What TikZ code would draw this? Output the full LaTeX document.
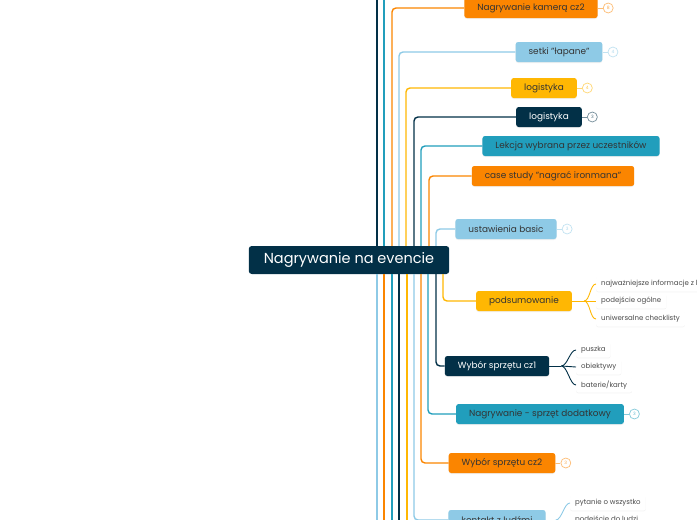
\documentclass[tikz,border=0pt]{standalone}
\usepackage{fontspec}
\setmainfont{Poppins}
\usetikzlibrary{positioning,shadows}
\definecolor{mapnavy}{HTML}{023047}
\definecolor{mapteal}{HTML}{219EBC}
\definecolor{mapsky}{HTML}{8ECAE6}
\definecolor{mapyellow}{HTML}{FFB703}
\definecolor{maporange}{HTML}{FB8500}
\definecolor{ink}{HTML}{333333}
\definecolor{softink}{HTML}{4A4A4A}
\tikzset{
  topic/.style={
    rounded corners=2.5pt,
    minimum height=20pt,
    inner xsep=13pt,
    inner ysep=0pt,
    font=\fontsize{8.9}{10}\selectfont,
    text=ink,
    drop shadow={opacity=0.12,shadow xshift=0pt,shadow yshift=-1pt}
  },
  navytopic/.style={topic,fill=mapnavy,text=white},
  tealtopic/.style={topic,fill=mapteal},
  skytopic/.style={topic,fill=mapsky},
  yellowtopic/.style={topic,fill=mapyellow},
  orangetopic/.style={topic,fill=maporange},
  root/.style={
    rounded corners=3pt,
    fill=mapnavy,
    text=white,
    minimum height=28pt,
    inner xsep=15pt,
    font=\fontsize{14.5}{16}\selectfont
  },
  leaf/.style={
    fill=white,
    rounded corners=2pt,
    minimum height=15pt,
    inner xsep=5pt,
    inner ysep=0pt,
    anchor=west,
    font=\fontsize{7}{8}\selectfont,
    text=softink,
    drop shadow={opacity=0.10,shadow xshift=0pt,shadow yshift=-0.8pt}
  },
  branch/.style={draw=#1,line width=1.4pt,rounded corners=4pt},
  twig/.style={draw=#1,line width=0.9pt},
  tally/.style={
    circle,
    draw=#1!55,
    fill=white,
    line width=0.7pt,
    minimum size=10pt,
    inner sep=0pt,
    font=\fontsize{4.5}{4.5}\selectfont,
    text=#1!70
  }
}

\begin{document}
\begin{tikzpicture}[x=1pt,y=-1pt]
  \clip (0,0) rectangle (697,520);

  \node[root] (hub) at (349,260) {Nagrywanie na evencie};

  \node[orangetopic] (kamera) at (531,8) {Nagrywanie kamerą cz2};
  \node[skytopic] (setki) at (559,52) {setki "łapane"};
  \node[yellowtopic] (logY) at (544,88) {logistyka};
  \node[navytopic] (logN) at (549,117) {logistyka};
  \node[tealtopic] (lekcja) at (571,146) {Lekcja wybrana przez uczestników};
  \node[orangetopic] (ironman) at (553,176) {case study "nagrać ironmana"};
  \node[skytopic] (basic) at (506,229) {ustawienia basic};
  \node[yellowtopic] (podsum) at (524,301) {podsumowanie};
  \node[navytopic] (cz1) at (497,366) {Wybór sprzętu cz1};
  \node[tealtopic] (dodatk) at (540,414) {Nagrywanie - sprzęt dodatkowy};
  \node[orangetopic] (cz2) at (502,463) {Wybór sprzętu cz2};
  \node[skytopic] (kontakt) at (497,520) {kontakt z ludźmi};

  % counters
  \node[tally=maporange,right=5pt of kamera] (kameraN) {8};
  \node[tally=mapsky,right=5pt of setki] (setkiN) {4};
  \node[tally=mapyellow,right=5pt of logY] (logYN) {4};
  \node[tally=mapnavy,right=5pt of logN] (logNN) {3};
  \node[tally=mapsky,right=5pt of basic] (basicN) {3};
  \node[tally=mapteal,right=5pt of dodatk] (dodatkN) {3};
  \node[tally=maporange,right=5pt of cz2] (cz2N) {3};
  \draw[twig=maporange!55] (kamera.east) -- (kameraN.west);
  \draw[twig=mapsky!55] (setki.east) -- (setkiN.west);
  \draw[twig=mapyellow!55] (logY.east) -- (logYN.west);
  \draw[twig=mapnavy!55] (logN.east) -- (logNN.west);
  \draw[twig=mapsky!55] (basic.east) -- (basicN.west);
  \draw[twig=mapteal!55] (dodatk.east) -- (dodatkN.west);
  \draw[twig=maporange!55] (cz2.east) -- (cz2N.west);

  % leaves
  \node[leaf] (infoA) at (596,284) {najważniejsze informacje z l};
  \node[leaf] (infoB) at (596,301) {podejście ogólne};
  \node[leaf] (infoC) at (596,319) {uniwersalne checklisty};
  \node[leaf] (gearA) at (576,350) {puszka};
  \node[leaf] (gearB) at (576,367) {obiektywy};
  \node[leaf] (gearC) at (576,385) {baterie/karty};
  \node[leaf] (talkA) at (570,503) {pytanie o wszystko};
  \node[leaf] (talkB) at (570,520) {podejście do ludzi};

  \draw[twig=mapyellow] (podsum.east) -- ++(12,0) coordinate (podsumJ);
  \draw[twig=mapyellow] (podsumJ) .. controls +(6,0) and +(-6,0) .. (infoA.west);
  \draw[twig=mapyellow] (podsumJ) -- (infoB.west);
  \draw[twig=mapyellow] (podsumJ) .. controls +(6,0) and +(-6,0) .. (infoC.west);
  \draw[twig=mapnavy] (cz1.east) -- ++(12,0) coordinate (cz1J);
  \draw[twig=mapnavy] (cz1J) .. controls +(6,0) and +(-6,0) .. (gearA.west);
  \draw[twig=mapnavy] (cz1J) -- (gearB.west);
  \draw[twig=mapnavy] (cz1J) .. controls +(6,0) and +(-6,0) .. (gearC.west);
  \draw[twig=mapsky] (kontakt.east) -- ++(10,0) coordinate (kontaktJ);
  \draw[twig=mapsky] (kontaktJ) .. controls +(6,0) and +(-6,0) .. (talkA.west);
  \draw[twig=mapsky] (kontaktJ) -- (talkB.west);

  \coordinate (offtop) at (0,-20);
  \coordinate (offbottom) at (0,540);

  % branches up
  \draw[branch=mapnavy] ([xshift=28pt]hub.north) -- ([xshift=28pt]hub.north |- offtop);
  \draw[branch=mapteal] ([xshift=35pt]hub.north) -- ([xshift=35pt]hub.north |- offtop);
  \draw[branch=maporange] ([xshift=43pt]hub.north) |- (kamera.west);
  \draw[branch=mapsky] ([xshift=50pt]hub.north) |- (setki.west);
  \draw[branch=mapyellow] ([xshift=57pt]hub.north) |- (logY.west);
  \draw[branch=mapnavy] ([xshift=65pt]hub.north) |- (logN.west);
  \draw[branch=mapteal] ([xshift=72pt]hub.north) |- (lekcja.west);
  \draw[branch=maporange] ([xshift=80pt]hub.north) |- (ironman.west);
  \draw[branch=mapsky] ([xshift=87pt]hub.north) |- (basic.west);

  % branches down
  \draw[branch=mapsky] ([xshift=28pt]hub.south) -- ([xshift=28pt]hub.south |- offbottom);
  \draw[branch=maporange] ([xshift=35pt]hub.south) -- ([xshift=35pt]hub.south |- offbottom);
  \draw[branch=mapteal] ([xshift=43pt]hub.south) -- ([xshift=43pt]hub.south |- offbottom);
  \draw[branch=mapnavy] ([xshift=50pt]hub.south) -- ([xshift=50pt]hub.south |- offbottom);
  \draw[branch=mapyellow] ([xshift=58pt]hub.south) -- ([xshift=58pt]hub.south |- offbottom);
  \draw[branch=mapsky] ([xshift=65pt]hub.south) |- (kontakt.west);
  \draw[branch=maporange] ([xshift=72pt]hub.south) |- (cz2.west);
  \draw[branch=mapteal] ([xshift=79pt]hub.south) |- (dodatk.west);
  \draw[branch=mapnavy] ([xshift=87pt]hub.south) |- (cz1.west);
  \draw[branch=mapyellow] ([xshift=94pt]hub.south) |- (podsum.west);
\end{tikzpicture}
\end{document}
